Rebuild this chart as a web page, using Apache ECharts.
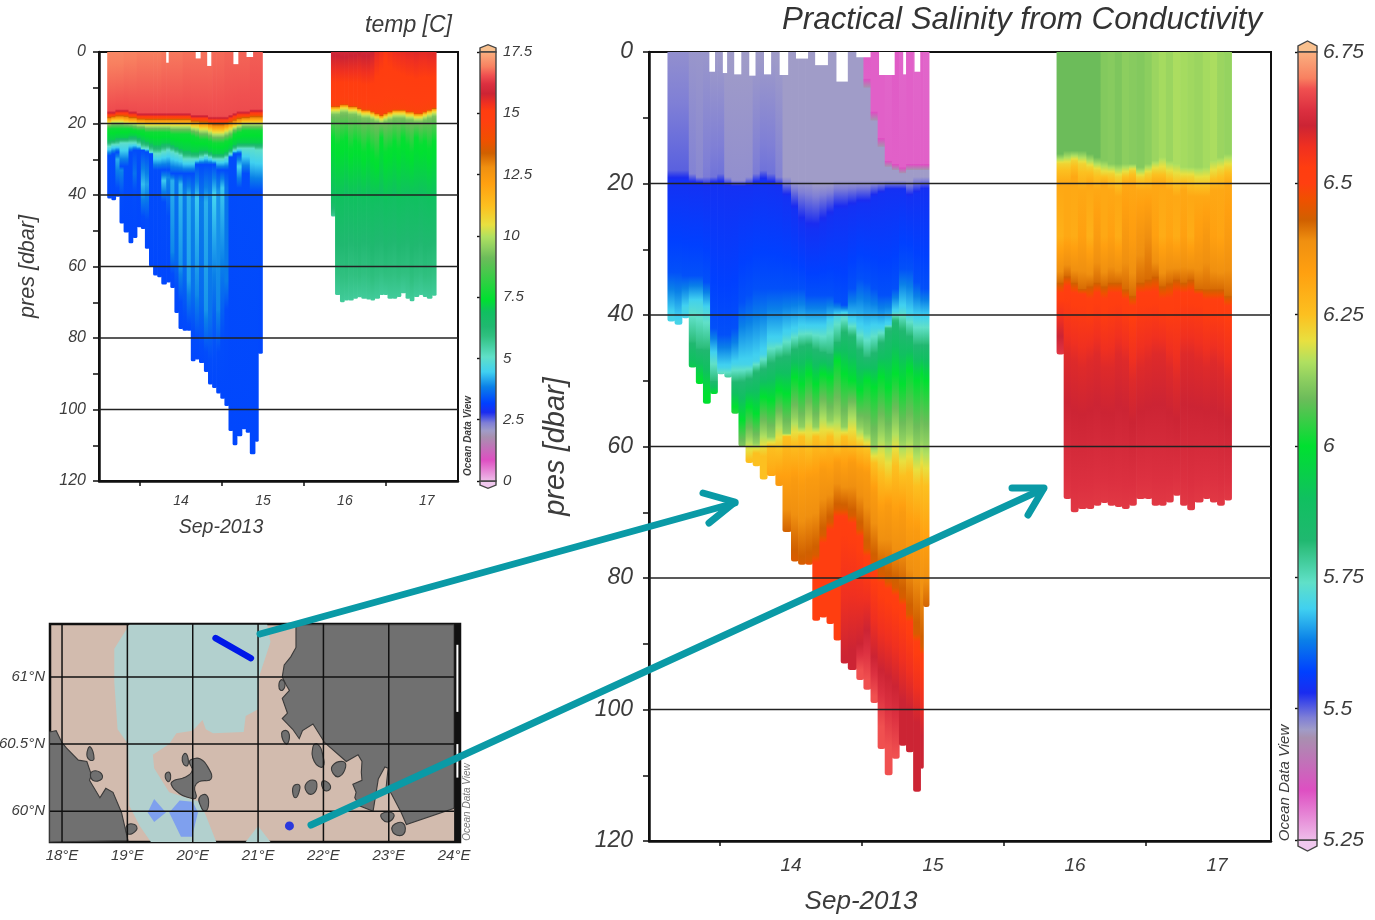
<!DOCTYPE html>
<html><head><meta charset="utf-8">
<style>html,body{margin:0;padding:0;background:#fff}#c{width:1375px;height:920px}</style>
<script src="https://cdn.jsdelivr.net/npm/echarts@6/dist/echarts.min.js"></script>
</head><body><div id="c"></div>
<script>
const _ = null;
// ---------- colour scale ----------
const paletteColors = ['#eebde9','#de4fc2','#a890b0','#a09cc8','#7f7fd6','#1a2cf0','#0040ff','#0a80e8','#40d0f0','#60e0c8','#30c080','#20b870','#10c060','#00e030','#6cbc5a','#90d060','#b0e060','#e8e040','#fcc020','#ffa010','#f09010','#d06000','#f05000','#ff3f10','#ff3d10','#f03020','#cc2434','#dc3040','#f05050','#f88060','#fab080'];
const salStops = [5.25,5.345,5.445,5.46,5.483,5.53,5.57,5.63,5.69,5.74,5.805,5.82,5.9,6.0,6.09,6.13,6.16,6.2,6.25,6.33,6.39,6.43,6.47,6.5,6.53,6.57,6.61,6.64,6.68,6.70,6.75];
const tempStops = [0,0.86,1.8,2.05,2.37,2.8,3.18,3.84,4.45,5.06,5.9,6.3,6.9,7.4,9.1,9.55,9.96,10.45,11.2,12.15,12.8,13.37,13.9,14.7,15.1,15.4,15.8,16.2,16.55,16.9,17.5];
// ---------- axes ----------
const dayTicks = [14,15,16,17];
const dayLabels = [14.5,15.5,16.5,17.5];
const presLabels = [0,20,40,60,80,100,120];
const presLines = [20,40,60,80,100];
// ---------- stations ----------
const times1 = [13.63,13.68,13.73,13.78,13.83,13.88,13.93,13.98,14.03,14.08,14.13,14.18,14.23,14.28,14.33,14.39,14.44,14.50,14.55,14.60,14.65,14.70,14.75,14.80,14.85,14.90,14.96,15.01,15.06,15.11,15.16,15.21,15.26,15.31,15.36,15.41,15.43,15.47];
const times2 = [16.37,16.42,16.47,16.52,16.58,16.63,16.68,16.73,16.78,16.83,16.88,16.93,16.99,17.04,17.09,17.14,17.19,17.24,17.29,17.34,17.40,17.45,17.50,17.55,17.60];
const tempTimes1 = [13.60,13.65,13.70,13.75,13.80,13.86,13.91,13.96,14.01,14.06,14.11,14.16,14.21,14.26,14.32,14.37,14.42,14.47,14.52,14.57,14.62,14.67,14.72,14.78,14.83,14.88,14.93,14.98,15.03,15.08,15.13,15.18,15.24,15.29,15.34,15.40,15.44,15.49];
const tempTimes2 = [16.33,16.38,16.44,16.49,16.54,16.60,16.65,16.70,16.76,16.81,16.86,16.92,16.97,17.02,17.08,17.13,17.18,17.24,17.29,17.34,17.40,17.45,17.50,17.56,17.61];
const bottom1 = [41,41.5,40.5,48,50.5,53.5,52,49,49.5,55,60,62.5,63,65,64.5,66,73,77.5,78,78,86.5,86,87,89.5,93,94,95.5,97,99,106,110,107.5,105.5,106.5,112.5,109,84.4];
const bottom2 = [46,68,70,69.5,69.5,69,68.6,69,69.2,69.5,69,68,68,69,69,68.5,67.5,69,69.7,68.5,68,68.5,69,68.2];
// ---------- salinity, first leg ----------
const salSurf1 = [5.47,5.47,5.47,5.465,5.465,5.465,5.46,5.46,5.46,5.46,5.46,5.46,5.46,5.46,5.46,5.46,5.46,5.46,5.46,5.46,5.46,5.46,5.46,5.46,5.46,5.46,5.46,5.335,5.33,5.33,5.325,5.335,5.325,5.33,5.325,5.33,5.325];
const salLav1 = [5.5,5.5,5.5,5.48,5.475,5.485,5.49,5.49,5.47,5.47,5.47,5.47,5.485,5.49,5.49,5.48,5.46,5.46,5.46,5.46,5.46,5.46,5.46,5.46,5.46,5.46,5.46,5.46,5.46,5.46,5.46,5.46,5.46,5.46,5.46,5.46,5.46];
const salPink1 = [_,_,_,_,_,_,_,_,_,_,_,_,_,_,_,_,_,_,_,_,_,_,_,_,_,_,_,4,9,13,16.5,17,17.5,17,17,17,17];
const salPinkEnd1 = [_,_,_,_,_,_,_,_,_,_,_,_,_,_,_,_,_,_,_,_,_,_,_,_,_,_,_,5.5,10.5,14.5,17.5,18,18.5,18,18,18,18];
const sal547 = [18,18,18,18.5,19,19,19,18.5,19,19.5,19.5,19,18.5,18,18.5,19,19,19.5,19.5,19.5,20,20,20,19.5,19.5,19.5,19.5,19.5,19.5,19.5,19.5,19.5,19.5,19.5,19,19,19];
const sal554 = [19.5,19.5,19.5,20,20,20.5,20,20,20.5,20.5,20.5,20.5,20,19.5,20,20.5,22,24,26,27,27,26,25,24,24,23.5,23,23,22,21.5,21,21,21,22,21.5,21,21];
const sal585 = [33.5,33.5,34,34,34,35,42,43,43,42,38,37,36,36,36,36,36,36,36,37,37,37,37,38,38.5,36,34.5,35,36,37,37,36,33,33,35,36,36];
const sal570 = [40,41,39,38,38,39,46,48,48,47.5,47.5,47.5,47,46,44,44,43,42.5,42,42,42,42,41,40,39.7,41,42,42.5,42,42,41.5,39.5,39,40,40.5,40.5,40.5];
const sal580 = [_,_,_,44,45,45,50,50,50,50,49.9,49.5,48.5,48,47,46.3,46,45,44.5,44.3,45,45.5,45.8,44,42.3,43,45,46.3,45.5,44,42,40.8,42,43,44.3,44.3,44.3];
const sal600 = [_,_,_,50,50,52,52,_,_,54,56,54,55,52.5,53,51.5,52,49.5,50.5,49,50.5,49,49.5,47,49,50,51.5,50,51,49.5,51,49,50.5,48.5,50,49,50];
const sal613 = [_,_,_,_,_,_,_,_,_,58,60.5,58.5,59.5,57.5,58.5,56,58,55.5,57,55,57,54.5,56,55,57,54.5,57,58,60,57.5,59,56.5,59,58,60,59,59.5];
const sal625 = [_,_,_,_,_,_,_,_,_,_,61.5,62,61,61.5,60,60.5,58.5,59.5,58.5,60,58.5,59.5,58.5,60,58.5,59.5,60,60.5,62.5,64,65,63,64.5,64,66,65,66];
const sal635 = [_,_,_,_,_,_,_,_,_,_,_,_,_,_,67,65.5,66,65,66,65,65,63.5,64,62.5,63.5,62.5,63.5,64,67,70,69,71,70,73,73,76,76];
const sal645 = [_,_,_,_,_,_,_,_,_,_,_,_,_,_,_,_,74,77,78,77.5,76.5,73.5,71.5,69.5,69.5,70.5,72.5,75.5,77.5,79.5,80.5,81.5,83,85.5,88.5,90.5,86];
const sal652 = [_,_,_,_,_,_,_,_,_,_,_,_,_,_,_,_,_,_,_,79,78,75,73,71,71,72,74,77,79,81,82,83,84.5,87,90,92,_];
const sal662 = [_,_,_,_,_,_,_,_,_,_,_,_,_,_,_,_,_,_,_,_,_,_,_,_,92,91,90,88,92,94,95,96.5,98.5,100,102,104,_];
const sal668 = [_,_,_,_,_,_,_,_,_,_,_,_,_,_,_,_,_,_,_,_,_,_,_,_,_,_,94,95.5,98,102.6,105.7,107,_,_,_,_,_];
const salGaps = [[13.925,13.965,3],[14.02,14.05,3.2],[14.10,14.15,3.4],[14.206,14.25,3.6],[14.31,14.36,3.4],[14.42,14.48,3.5],[14.535,14.62,1],[14.67,14.76,2],[14.82,14.90,4.5],[14.96,15.06,0.8],[15.12,15.23,3.5],[15.29,15.31,3.4],[15.37,15.41,3]];
// ---------- salinity, second leg ----------
const salSurf2 = [6.09,6.09,6.09,6.09,6.09,6.09,6.115,6.12,6.11,6.125,6.12,6.115,6.125,6.14,6.15,6.14,6.155,6.15,6.145,6.14,6.15,6.155,6.14,6.135];
const salGreen2 = [15.5,15,15,15,15.5,16,16.5,17,17,17,17,17.5,17,16.5,16,16.5,17,17.5,17.5,17.5,17.5,16.5,16,15.5];
const salYel2 = [17,17,16.5,17,17.5,18,18.5,18.5,19,18.5,18,19,18.5,18,18,18.5,19,19,19,19.5,19.5,18.5,18,17.5];
const salOr2 = [20,20,19,21,20,21,20,21,22,20,20,21,21,20,20,21,22,21,22,22,22,21,21,20];
const salMidDepth2 = [28,28,28,28,28,28,28,28,28,28,28,28,28,28,28,28,28,28,28,28,28,28,28,28];
const salMid2 = [6.29,6.31,6.3,6.33,6.29,6.35,6.31,6.33,6.3,6.36,6.34,6.37,6.39,6.33,6.3,6.32,6.3,6.33,6.3,6.34,6.36,6.33,6.32,6.35];
const sal642b = [35,34,35,36,35.5,35,35.5,35,35,36,37,35,34.5,34,35.5,35,34.5,35,34.5,36,36,36,36,37];
const sal652b = [37,36,37,37,38,37,38,37,37,38,39,37,37,37,38,38,37,37,37,37,38,38,38,39];
const sal660b = [_,46,47,48,47,46,48,48,46,47,50,48,47,46,46,48,50,46,46,47,48,47,48,50];
// ---------- temperature, first leg ----------
const tSurf1 = [17,17,17,17,16.95,16.95,16.95,16.9,16.9,16.9,16.9,16.9,16.9,16.85,16.85,16.85,16.85,16.85,16.8,16.8,16.8,16.8,16.8,16.8,16.8,16.75,16.75,16.75,16.7,16.7,16.7,16.7,16.7,16.7,16.65,16.65,16.65];
const tMix1 = [16.5,16.5,16,16,16,16.5,16.5,17,17,17,17,17,17,17,17,17,17,17,17,17,17.5,17.5,17.5,17.5,18,18,18,18,18,17.5,17,16.5,16.5,16.5,16,16,16];
const tRed1 = [17.5,17.5,17,17,17,17.5,17.5,18,18,18,18,18,18,18,18,18,18,18,18,18,18.5,18.5,18.5,18.5,19,19,19,19,19,18.5,18,17.5,17.5,17.5,17,17,17];
const tYel1 = [19.5,19,19,19,19.3,19.5,19.5,19.8,19.8,20,20,20,20,20,20,20,20,20,20,20,20.5,20.5,21,21,21.5,22,22,22,21.5,21,20.5,20,19.5,19.5,19.5,19.5,19.5];
const tGrn1 = [21.5,21.5,21.5,21.5,21.5,21.5,21.8,22,22,22.5,22.5,22.5,22.5,22.5,22.5,23,23,23,23,23,23.5,24,24.5,24.5,25,25.5,25.5,25.5,25,24.5,23,22.5,22,22,22,22,22];
const tGrnEnd1 = [24.5,24.5,24,24,24,23.5,23.5,24,24.5,25,25.5,26,26,25.5,25.5,26,26.5,27,27.5,27.5,28,28,27.5,27.5,28,28.5,28.5,28.5,28,27,26,25.5,25.5,25.5,25.5,25.5,25.5];
const tCyan1 = [26.5,26,26,25.5,25.5,25.5,25.5,26,27,27,28,28.5,28.5,28,27.5,28,28.5,29,30,30,30,30,29.5,29,29.5,30,30,30,29.5,28.5,27.5,27,27,27,27,27.5,27.5];
const tBlue1 = [29,28.5,28,32,32,28,27.5,27.5,27.5,28,28.5,33,33,33,33,34,34,34,34,34,34,31.5,31.5,31.5,31.5,31.5,33,33,33,29.5,28.5,28.5,34,34,39,39,39];
const tStream1 = [_,_,30,33,_,_,34,_,37,37,_,_,_,36,35,36,36,37,39,40,41,41,42,42,40,40,39,38,38,_,_,32,_,_,_,_,_];
const tStreamVal1 = [_,_,4.2,3.9,_,_,3.7,_,4.3,4.1,_,_,_,4.4,3.9,4.2,3.7,4.3,3.8,4.2,3.9,4.4,3.8,4.2,3.9,4.5,4.0,4.4,3.7,_,_,4.5,_,_,_,_,_];
const tStreamMid1 = [_,_,_,_,_,_,_,_,_,_,_,_,_,_,_,56,58,60,62,64,66,68,70,72,74,74,72,68,64,_,_,_,_,_,_,_,_];
const tStreamMidVal1 = [_,_,_,_,_,_,_,_,_,_,_,_,_,_,_,3.9,3.6,4.0,3.6,4.1,3.7,3.9,3.6,4.0,3.7,3.5,3.9,3.6,3.8,_,_,_,_,_,_,_,_];
const tStreamEnd1 = [_,_,38,40,_,_,39,_,46,47,_,_,_,42,46,62,66,70,74,76,78,80,82,84,86,86,84,80,72,_,_,38,_,_,_,_,_];
const tempGaps = [[14.32,14.35,3],[14.68,14.74,1.8],[14.82,14.87,3.9],[15.14,15.20,3.4],[15.30,15.38,1.4]];
// ---------- temperature, second leg ----------
const tSurf2 = [15.9,15.9,15.95,15.95,15.9,15.9,15.85,15.9,15.9,15.8,15.5,15.35,15.2,15.3,15.4,15.45,15.5,15.55,15.55,15.6,15.55,15.55,15.6,15.6];
const tRed2 = [15,15,14.5,14.5,15,15,15.5,16,16,16.5,17,17.5,17,16.5,16,16,16,16.5,16.5,17,17,16.5,16,15.5];
const tYel2 = [16,16,15.5,15.5,16,16,16.5,17,17,17.5,18,18.5,18,17.5,17,17,17,17.5,17.5,18,18,17.5,17,16.5];
const tLight2 = [17.5,17.5,17,17,17.5,17.5,18,18.5,18.5,19,19.5,20,19.5,19,18.5,18.5,18.5,19,19,19.5,19.5,19,18.5,18];
const tGreen2 = [24,26,25,24,27,25,26,28,26,28,30,24,28,27,25,27,24,26,28,24,26,25,27,25];
const tMed2 = [42,43,44,42,43,44,42,43,42,44,43,42,44,43,42,44,43,42,43,44,42,43,44,43];
const tTeal2 = [_,58,58,59,57,58,59,57,58,60,58,57,59,58,57,59,58,57,60,58,57,59,58,57];
// ---------- map ----------
const mapLonTicks = [18,19,20,21,22,23,24];
const mapLatTicks = [60,60.5,61];
const mapLonLines = [18,19,20,21,22,23];
const seaLight = [[19.03,61.39],[18.80,61.21],[18.80,60.96],[18.85,60.61],[19.01,60.50],[19.03,60.04],[19.19,59.89],[19.36,59.77],[20.36,59.77],[20.20,59.97],[20.10,60.07],[19.64,60.14],[19.41,60.32],[19.39,60.42],[19.64,60.50],[19.75,60.58],[20.0,60.60],[20.15,60.68],[20.20,60.61],[20.31,60.58],[20.78,60.59],[20.81,60.71],[21.0,60.76],[21.02,61.01],[21.19,61.26],[21.14,61.39]];
const seaLightSouth = [[20.81,59.77],[21.0,59.89],[21.19,59.77]];
const seaBlueA = [[19.31,59.99],[19.41,60.09],[19.59,59.99],[19.41,59.92]];
const seaBlueB = [[19.64,59.99],[19.80,60.08],[20,60.07],[20.08,59.99],[19.99,59.81],[19.82,59.81]];
const landWest = [[17.81,60.59],[17.91,60.60],[18.0,60.51],[18.07,60.47],[18.25,60.38],[18.38,60.37],[18.45,60.27],[18.42,60.23],[18.58,60.10],[18.67,60.17],[18.78,60.14],[18.91,59.99],[19.01,59.78],[17.81,59.77]];
const landEast = [[21.58,61.39],[21.58,61.22],[21.50,61.15],[21.40,61.09],[21.37,61.0],[21.43,60.94],[21.48,60.90],[21.37,60.84],[21.45,60.73],[21.37,60.69],[21.53,60.61],[21.63,60.54],[21.68,60.60],[21.84,60.65],[22.02,60.51],[22.35,60.37],[22.53,60.42],[22.59,60.37],[22.58,60.29],[22.59,60.23],[22.45,60.20],[22.50,60.14],[22.48,60.10],[22.55,60.04],[22.76,60.0],[22.84,60.24],[22.94,60.33],[22.99,60.32],[22.96,60.18],[23.04,60.13],[23.19,59.99],[23.27,59.90],[23.99,60.02],[24.0,60.03],[24.0,61.39]];
const aland = [[19.95,60.37],[20.01,60.39],[20.11,60.39],[20.23,60.33],[20.28,60.24],[20.10,60.22],[20.03,60.18],[20.05,60.10],[19.95,60.10],[19.80,60.13],[19.67,60.20],[19.72,60.23],[19.87,60.25],[19.99,60.30]];
const islands = [
 [[18.38,60.42],[18.43,60.48],[18.49,60.39],[18.43,60.38]],
 [[18.45,60.29],[18.58,60.29],[18.61,60.24],[18.47,60.23]],
 [[18.99,59.89],[19.11,59.90],[19.14,59.86],[19.01,59.83]],
 [[19.84,60.40],[19.89,60.43],[19.93,60.39],[19.92,60.34],[19.86,60.35]],
 [[19.58,60.27],[19.64,60.29],[19.66,60.24],[19.62,60.22]],
 [[20.10,60.10],[20.21,60.12],[20.24,60.04],[20.18,60.0],[20.12,60.04]],
 [[21.32,60.95],[21.37,60.98],[21.41,60.93],[21.35,60.90]],
 [[21.36,60.58],[21.44,60.60],[21.48,60.55],[21.43,60.50]],
 [[21.84,60.48],[21.91,60.50],[21.99,60.42],[21.99,60.33],[21.86,60.37]],
 [[22.14,60.34],[22.30,60.37],[22.34,60.33],[22.25,60.26],[22.15,60.28]],
 [[21.73,60.20],[21.86,60.23],[21.90,60.18],[21.84,60.13],[21.75,60.14]],
 [[21.53,60.17],[21.61,60.20],[21.64,60.17],[21.57,60.10]],
 [[21.98,60.22],[22.05,60.22],[22.11,60.18],[22.05,60.15],[21.99,60.17]],
 [[22.89,59.98],[23.04,59.99],[23.08,59.96],[22.99,59.92],[22.90,59.94]],
 [[23.06,59.89],[23.22,59.91],[23.23,59.83],[23.09,59.83]]
];
const trackLon = [20.35,20.71,20.89];
const trackLat = [61.29,61.19,61.14];
const stationLon = [21.48];
const stationLat = [59.89];
const mapEdgeGaps = [[61.24,60.74],[60.5,60.25]];

// ---------- helpers ----------
function hex(c){return [1,3,5].map(i=>parseInt(c.substr(i,2),16));}
const paletteRgb = paletteColors.map(hex);
function colourAt(v,stops){
  if(v<=stops[0])return paletteColors[0];
  for(let k=1;k<stops.length;k++){ if(v<=stops[k]){
    const f=(v-stops[k-1])/(stops[k]-stops[k-1]);const a=paletteRgb[k-1],b=paletteRgb[k];
    return 'rgb('+a.map((x,j)=>Math.round(x+(b[j]-x)*f)).join(',')+')';
  }}
  return paletteColors[paletteColors.length-1];
}
function colourStops(levels,i,stops){
  const knots=[];
  levels.forEach(l=>{
    const d=l.d[i]; if(d===null||d===undefined)return;
    const v=Array.isArray(l.v)?l.v[i]:l.v; if(v===null)return;
    knots.push({d,v});
  });
  knots.sort((a,b)=>a.d-b.d);
  const out=[];
  knots.forEach((k,n)=>{
    out.push({offset:k.d/120,color:colourAt(k.v,stops)});
    const nx=knots[n+1]; if(!nx)return;
    const lo=Math.min(k.v,nx.v),hi=Math.max(k.v,nx.v);
    const inner=stops.filter(s=>s>lo&&s<hi);
    if(k.v>nx.v)inner.reverse();
    inner.forEach(s=>{out.push({offset:(k.d+(nx.d-k.d)*(s-k.v)/(nx.v-k.v))/120,color:colourAt(s,stops)});});
  });
  return out;
}
const ZERO=new Array(40).fill(0);
function sectionSeries(g,times,bottom,levels,stops,radius){
  const data=bottom.map((b,i)=>[times[i],times[i+1],b]);
  return {type:'custom',xAxisIndex:g,yAxisIndex:g,z:2,animation:false,silent:true,data,encode:{x:[0,1],y:2},
    renderItem(p,api){
      const i=p.dataIndex;
      const a=api.coord([api.value(0),0]),b=api.coord([api.value(1),api.value(2)]);
      const y0=api.coord([api.value(0),0])[1],y1=api.coord([api.value(0),120])[1];
      return {type:'rect',shape:{x:a[0],y:a[1],width:b[0]-a[0]+0.7,height:b[1]-a[1],r:[0,0,radius,radius]},
        style:{fill:new echarts.graphic.LinearGradient(0,y0,0,y1,colourStops(levels,i,stops),true)}};
    }};
}
function gapSeries(g,gaps){
  return {type:'custom',xAxisIndex:g,yAxisIndex:g,z:3,animation:false,silent:true,data:gaps,encode:{x:[0,1],y:2},
    renderItem(p,api){const a=api.coord([api.value(0),0]),b=api.coord([api.value(1),api.value(2)]);
      return {type:'rect',shape:{x:a[0],y:a[1],width:b[0]-a[0],height:b[1]-a[1]},style:{fill:'#fff'}};}};
}
function hLineSeries(g,vals,x0,x1,w,color){
  return {type:'custom',xAxisIndex:g,yAxisIndex:g,z:5,animation:false,silent:true,data:vals.map(v=>[v]),encode:{y:0},
    renderItem(p,api){const a=api.coord([x0,api.value(0)]),b=api.coord([x1,api.value(0)]);
      return {type:'line',shape:{x1:a[0],y1:a[1],x2:b[0],y2:b[1]},style:{stroke:color,lineWidth:w}};}};
}
function vLineSeries(g,vals,y0,y1,w,color){
  return {type:'custom',xAxisIndex:g,yAxisIndex:g,z:5,animation:false,silent:true,data:vals.map(v=>[v]),encode:{x:0},
    renderItem(p,api){const a=api.coord([api.value(0),y0]),b=api.coord([api.value(0),y1]);
      return {type:'line',shape:{x1:a[0],y1:a[1],x2:b[0],y2:b[1]},style:{stroke:color,lineWidth:w}};}};
}
function polySeries(g,polys,style,z,smooth){
  return {type:'custom',xAxisIndex:g,yAxisIndex:g,z,animation:false,silent:true,data:polys.map((q,i)=>[q[0][0],q[0][1],i]),encode:{x:0,y:1},
    renderItem(p,api){return {type:'polygon',shape:{points:polys[p.dataIndex].map(c=>api.coord(c)),smooth:smooth||0},style};}};
}
function barSeries(g,stops,tipTop,tipBot){
  const vmin=stops[0],vmax=stops[stops.length-1];
  return {type:'custom',xAxisIndex:g,yAxisIndex:g,z:2,animation:false,silent:true,data:[[0,vmin]],encode:{x:0,y:1},
    renderItem(p,api){
      const a=api.coord([0,vmax]),b=api.coord([1,vmin]);
      const cs=stops.map((s,i)=>({offset:(vmax-s)/(vmax-vmin),color:paletteColors[i]})).reverse();
      const edge={stroke:'#444',lineWidth:1.4};
      return {type:'group',children:[
        {type:'polygon',shape:{points:[[0,vmax],[0,vmax+tipTop*.55],[.5,vmax+tipTop],[1,vmax+tipTop*.55],[1,vmax]].map(c=>api.coord(c))},style:Object.assign({fill:'#f9c08e'},edge)},
        {type:'polygon',shape:{points:[[0,vmin],[0,vmin-tipBot*.55],[.5,vmin-tipBot],[1,vmin-tipBot*.55],[1,vmin]].map(c=>api.coord(c))},style:Object.assign({fill:'#f0c8ee'},edge)},
        {type:'rect',shape:{x:a[0],y:a[1],width:b[0]-a[0],height:b[1]-a[1]},style:Object.assign({fill:new echarts.graphic.LinearGradient(0,a[1],0,b[1],cs,true)},edge)}
      ]};
    }};
}
const FONT='"Liberation Sans",Arial,sans-serif', TXT='#3c3c3c';
const lab=(size,extra)=>Object.assign({fontFamily:FONT,fontStyle:'italic',fontSize:size,color:TXT},extra||{});
function timeAxis(g,size,margin,tick){
  return {type:'value',gridIndex:g,min:13.5,max:17.88,position:'bottom',
    axisLine:{show:true,onZero:false,lineStyle:{color:'#111',width:2.5}},splitLine:{show:false},
    axisTick:{show:true,customValues:dayTicks,length:tick,lineStyle:{color:'#111',width:1.5}},
    axisLabel:Object.assign(lab(size),{customValues:dayLabels,margin,formatter:v=>String(Math.floor(v))})};
}
function presAxis(g,size,margin,tick,name,nameSize,nameGap){
  return {type:'value',gridIndex:g,inverse:true,min:0,max:120,interval:10,position:'left',
    name,nameLocation:'middle',nameGap,nameTextStyle:lab(nameSize),
    axisLine:{show:true,onZero:false,lineStyle:{color:'#111',width:2.5}},splitLine:{show:false},
    axisTick:{show:true,length:tick,lineStyle:{color:'#111',width:1.5}},
    axisLabel:Object.assign(lab(size),{customValues:presLabels,margin})};
}
function barAxis(g,min,max,interval,pos,size,margin,labels){
  return {type:'value',gridIndex:g,min,max,interval,position:pos,
    axisLine:{show:false},splitLine:{show:false},
    axisTick:{show:true,inside:true,length:3,lineStyle:{color:'#111',width:1.4}},
    axisLabel:labels?Object.assign(lab(size),{margin}):{show:false}};
}
const hiddenX=g=>({type:'value',gridIndex:g,min:0,max:1,show:false});
const frame={show:true,borderColor:'#111',borderWidth:2,backgroundColor:'transparent',outerBoundsMode:'none'};

const salLevels1=[{v:salSurf1,d:ZERO},{v:5.33,d:salPink1},{v:5.46,d:salPinkEnd1},{v:salLav1,d:sal547},{v:5.54,d:sal554},{v:5.585,d:sal585},{v:5.7,d:sal570},{v:5.81,d:sal580},{v:6.0,d:sal600},{v:6.13,d:sal613},{v:6.25,d:sal625},{v:6.35,d:sal635},{v:6.44,d:sal645},{v:6.52,d:sal652},{v:6.61,d:sal662},{v:6.68,d:sal668}];
const salLevels2=[{v:salSurf2,d:ZERO},{v:salSurf2,d:salGreen2},{v:6.22,d:salYel2},{v:6.31,d:salOr2},{v:salMid2,d:salMidDepth2},{v:6.42,d:sal642b},{v:6.52,d:sal652b},{v:6.59,d:sal660b},{v:6.65,d:bottom2}];
const tempLevels1=[{v:tSurf1,d:ZERO},{v:16.5,d:tMix1},{v:15.2,d:tRed1},{v:11,d:tYel1},{v:7.6,d:tGrn1},{v:7.1,d:tGrnEnd1},{v:5,d:tCyan1},{v:3.3,d:tBlue1},{v:tStreamVal1,d:tStream1},{v:tStreamMidVal1,d:tStreamMid1},{v:3.3,d:tStreamEnd1},{v:3.25,d:bottom1}];
const tempLevels2=[{v:tSurf2,d:ZERO},{v:14.5,d:tRed2},{v:10.8,d:tYel2},{v:9.3,d:tLight2},{v:7.5,d:tGreen2},{v:6.8,d:tMed2},{v:6.1,d:tTeal2},{v:5.6,d:bottom2}];

const txt=(text,x,y,size,opt)=>Object.assign({type:'text',x,y,z:50,style:Object.assign({text,fontFamily:FONT,fontStyle:'italic',fontSize:size,fill:TXT,textAlign:'center',textVerticalAlign:'middle'},(opt&&opt.style)||{})},opt&&opt.el||{});
const arrow=(pts)=>({type:'polyline',z:100,shape:{points:pts},style:{stroke:'#0a9aa6',lineWidth:7,fill:null,lineCap:'round',lineJoin:'round'}});

const option={
  backgroundColor:'#fff',animation:false,
  title:[
    {text:'temp [C]',right:918,top:9,textStyle:lab(23,{fontWeight:'normal'})},
    {text:'Practical Salinity from Conductivity',left:777,top:0,textStyle:lab(31.3,{fontWeight:'normal',color:'#333'})}
  ],
  grid:[
    Object.assign({left:99,top:52,width:359,height:429},frame),
    Object.assign({left:649,top:52,width:622,height:789},frame),
    {left:50,top:624,width:410,height:218,show:true,borderColor:'#111',borderWidth:2.5,backgroundColor:'#d2bbae',outerBoundsMode:'none'},
    {left:480,top:52,width:16,height:429,outerBoundsMode:'none'},
    {left:1298,top:52,width:19,height:788,outerBoundsMode:'none'}
  ],
  xAxis:[timeAxis(0,14,13,5),timeAxis(1,19,15,5),
    {type:'value',gridIndex:2,min:17.816,max:24.09,axisLine:{show:false},axisTick:{show:false},splitLine:{show:false},
     axisLabel:Object.assign(lab(15),{customValues:mapLonTicks,margin:6,formatter:v=>v+'°E'})},
    hiddenX(3),hiddenX(4)],
  yAxis:[presAxis(0,16,13,6,'pres [dbar]',21.5,60),presAxis(1,23,16,6,'pres [dbar]',29,79),
    {type:'value',gridIndex:2,min:59.77,max:61.395,axisLine:{show:false},axisTick:{show:false},splitLine:{show:false},
     axisLabel:Object.assign(lab(15),{customValues:mapLatTicks,margin:5,formatter:v=>v+'°N'})},
    barAxis(3,0,17.5,2.5,'right',15,7,true),barAxis(4,5.25,6.75,0.25,'right',21,6,true),
    barAxis(3,0,17.5,2.5,'left',15,7,false),barAxis(4,5.25,6.75,0.25,'left',21,6,false)],
  series:[
    sectionSeries(0,tempTimes1,bottom1,tempLevels1,tempStops,1.5),
    sectionSeries(0,tempTimes2,bottom2,tempLevels2,tempStops,1.5),
    gapSeries(0,tempGaps),
    hLineSeries(0,presLines,13.5,17.88,1.4,'#222'),
    sectionSeries(1,times1,bottom1,salLevels1,salStops,2.5),
    sectionSeries(1,times2,bottom2,salLevels2,salStops,2.5),
    gapSeries(1,salGaps),
    hLineSeries(1,presLines,13.5,17.88,1.4,'#222'),
    polySeries(2,[seaLight,seaLightSouth],{fill:'#b2d0ce'},2),
    polySeries(2,[seaBlueA,seaBlueB],{fill:'#7fa0ee'},3),
    polySeries(2,[landWest,landEast],{fill:'#707070',stroke:'#3a3a3a',lineWidth:1.1},4),
    polySeries(2,[aland].concat(islands),{fill:'#707070',stroke:'#3a3a3a',lineWidth:1.1},4,0.5),
    vLineSeries(2,mapLonLines,59.77,61.395,1.5,'#111'),
    hLineSeries(2,mapLatTicks,17.816,24.0,1.5,'#111'),
    {type:'custom',xAxisIndex:2,yAxisIndex:2,z:6,animation:false,silent:true,data:[[24.0,59.77]],encode:{x:0,y:1},
      renderItem(p,api){const a=api.coord([24.0,61.395]),b=api.coord([24.09,59.77]);
        const kids=[{type:'rect',shape:{x:a[0],y:a[1],width:b[0]-a[0],height:b[1]-a[1]},style:{fill:'#111'}}];
        mapEdgeGaps.forEach(g=>{const u=api.coord([24.05,g[0]]),v=api.coord([24.05,g[1]]);
          kids.push({type:'rect',shape:{x:u[0]-1,y:u[1],width:2,height:v[1]-u[1]},style:{fill:'#fff'}});});
        return {type:'group',children:kids};}},
    {type:'line',xAxisIndex:2,yAxisIndex:2,z:7,animation:false,silent:true,symbol:'none',data:trackLon.map((x,i)=>[x,trackLat[i]]),lineStyle:{color:'#0018e8',width:6.5,cap:'round'}},
    {type:'scatter',xAxisIndex:2,yAxisIndex:2,z:7,animation:false,silent:true,symbolSize:9,data:stationLon.map((x,i)=>[x,stationLat[i]]),itemStyle:{color:'#0018e8'}},
    barSeries(3,tempStops,0.3,0.3),
    barSeries(4,salStops,0.021,0.021)
  ],
  graphic:[
    txt('Sep-2013',221,528,19.5),
    txt('Sep-2013',861,902,26),
    txt('Ocean Data View',468,436,10,{el:{rotation:Math.PI/2},style:{fontWeight:'bold'}}),
    txt('Ocean Data View',1285,783,15,{el:{rotation:Math.PI/2}}),
    txt('Ocean Data View',467,802,10,{el:{rotation:Math.PI/2},style:{fill:'#777'}}),
    arrow([[260,634],[735,503]]),arrow([[703,493],[735,502],[709,523]]),
    arrow([[311,825],[1043,489]]),arrow([[1012,488],[1044,488],[1028,515]])
  ]
};
echarts.init(document.getElementById('c'),null,{renderer:'canvas'}).setOption(option);
</script></body></html>
